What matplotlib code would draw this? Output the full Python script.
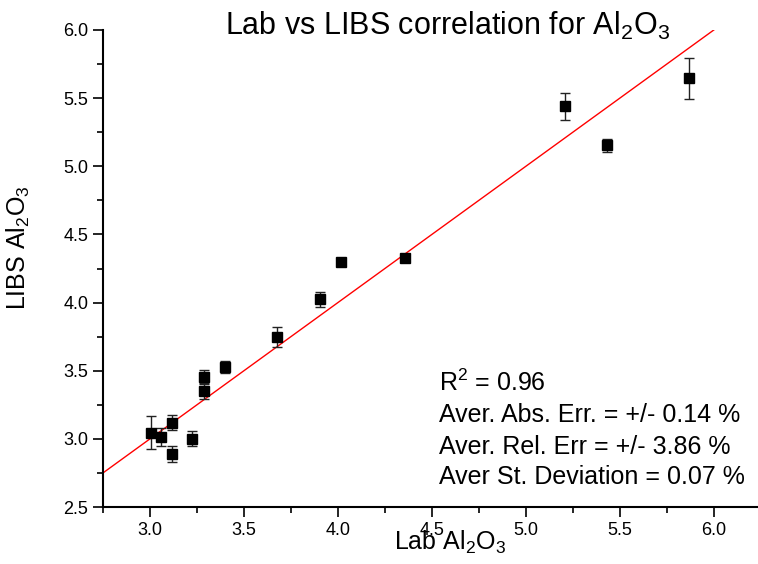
import numpy as np
import matplotlib.pyplot as plt
from matplotlib.ticker import MultipleLocator

plt.rcParams['font.family'] = ['Liberation Sans', 'DejaVu Sans']
plt.rcParams['mathtext.fontset'] = 'custom'
plt.rcParams['mathtext.rm'] = 'Liberation Sans'
plt.rcParams['mathtext.it'] = 'Liberation Sans'

# lab values vs LIBS values (Al2O3)
lab = [3.006, 3.057, 3.115, 3.115, 3.225, 3.285, 3.285, 3.397, 3.676, 3.906,
       4.016, 4.358, 5.207, 5.430, 5.869]
libs = [3.045, 3.011, 3.118, 2.887, 3.001, 3.454, 3.349, 3.527, 3.749, 4.024,
        4.300, 4.325, 5.440, 5.153, 5.645]
err = [0.12, 0.065, 0.055, 0.06, 0.055, 0.05, 0.06, 0.045, 0.075, 0.055,
       0.01, 0.03, 0.10, 0.05, 0.15]

# fitted line
slope = 1.0
intercept = 0.0
fit_x = [2.75, 6.0]

stats = ['R$^2$ = 0.96',
         'Aver. Abs. Err. = +/- 0.14 %',
         'Aver. Rel. Err = +/- 3.86 %',
         'Aver St. Deviation = 0.07 %']

W, H = 758, 564
fig = plt.figure(figsize=(W/100, H/100), dpi=100)
ax = fig.add_axes([103/W, 1-507/H, 654/W, 477/H])

fx = np.array(fit_x)
ax.plot(fx, slope*fx + intercept, color='red', lw=1)
ax.errorbar(lab, libs, yerr=err, fmt='s', color='black', ms=6.5,
            ecolor='#222222', elinewidth=1, capsize=3.5, capthick=1)

ax.set_xlim(2.75, 6.23)
ax.set_ylim(2.5, 6.0)
ax.xaxis.set_major_locator(MultipleLocator(0.5))
ax.xaxis.set_minor_locator(MultipleLocator(0.25))
ax.yaxis.set_major_locator(MultipleLocator(0.5))
ax.yaxis.set_minor_locator(MultipleLocator(0.25))
ax.xaxis.set_major_formatter(plt.FormatStrFormatter('%.1f'))
ax.yaxis.set_major_formatter(plt.FormatStrFormatter('%.1f'))
ax.tick_params(which='major', length=7, width=1.2, labelsize=13, direction='out')
ax.tick_params(which='minor', length=4, width=1.2, direction='out')
ax.spines['top'].set_visible(False)
ax.spines['right'].set_visible(False)
for s in ['left', 'bottom']:
    ax.spines[s].set_linewidth(1.5)

fig.text(448/W, 1-35/H, 'Lab vs LIBS correlation for Al$_2$O$_3$',
         fontsize=22, ha='center', va='baseline')
fig.text(450/W, 1-550/H, 'Lab Al$_2$O$_3$', fontsize=18, ha='center', va='baseline')
fig.text(32/W, 1-248/H, 'LIBS Al$_2$O$_3$', fontsize=18, rotation=90,
         ha='right', va='center')

base = [391, 422, 454, 484]
for t, b in zip(stats, base):
    fig.text(439/W, 1-b/H, t, fontsize=18, ha='left', va='baseline')

fig.savefig('out.png', dpi=100)
